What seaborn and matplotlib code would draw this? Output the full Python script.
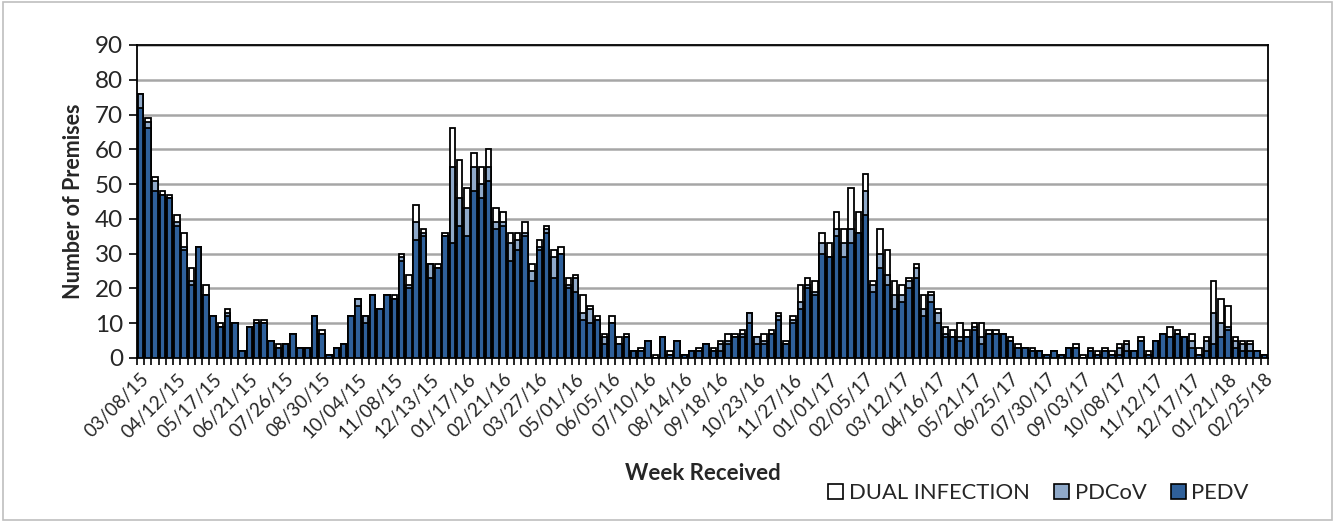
import pandas as pd
import matplotlib.pyplot as plt
from matplotlib.patches import Patch, Rectangle
from matplotlib.ticker import MultipleLocator, FixedLocator
import seaborn as sns

# ---------------------------
# data: weekly premises counts, 03/08/15 .. 02/25/18
# ---------------------------
weeks = pd.date_range("2015-03-08", "2018-02-25", freq="7D")

pedv = [72, 66, 48, 47, 46, 38, 31, 21, 32, 18, 12, 9, 12, 10, 2, 9, 10, 10, 5, 3,
        4, 7, 3, 3, 12, 7, 1, 3, 4, 12, 15, 10, 18, 14, 18, 17, 28, 20, 34, 35,
        23, 26, 35, 33, 38, 35, 48, 46, 51, 37, 38, 28, 31, 35, 22, 31, 36, 23, 30, 20,
        19, 11, 10, 11, 4, 10, 4, 6, 2, 2, 5, 0, 6, 1, 5, 1, 2, 2, 4, 2,
        2, 4, 6, 6, 10, 4, 4, 7, 11, 4, 10, 14, 20, 18, 30, 29, 35, 29, 33, 36,
        41, 19, 26, 21, 14, 16, 20, 23, 12, 16, 10, 6, 6, 5, 6, 8, 4, 7, 7, 7,
        5, 3, 3, 2, 2, 1, 2, 1, 3, 3, 0, 2, 1, 2, 1, 1, 2, 2, 5, 1,
        5, 7, 6, 7, 6, 3, 1, 2, 4, 6, 8, 3, 2, 2, 2, 1]

pdcov = [4, 2, 3, 0, 0, 1, 1, 1, 0, 0, 0, 0, 1, 0, 0, 0, 0, 0, 0, 0,
         0, 0, 0, 0, 0, 0, 0, 0, 0, 0, 2, 2, 0, 0, 0, 0, 1, 1, 5, 1,
         4, 0, 0, 22, 8, 8, 7, 4, 4, 2, 1, 5, 3, 1, 3, 1, 1, 6, 0, 1,
         4, 2, 4, 0, 2, 0, 0, 0, 0, 0, 0, 0, 0, 0, 0, 0, 0, 0, 0, 0,
         2, 1, 0, 1, 3, 2, 1, 0, 1, 0, 1, 2, 1, 1, 3, 0, 2, 4, 4, 0,
         7, 2, 4, 3, 4, 2, 2, 3, 2, 2, 3, 1, 0, 1, 0, 1, 2, 0, 0, 0,
         0, 0, 0, 0, 0, 0, 0, 0, 0, 0, 0, 0, 0, 0, 0, 2, 2, 0, 0, 0,
         0, 0, 0, 0, 0, 2, 0, 3, 9, 4, 1, 2, 2, 2, 0, 0]

dual = [0, 1, 1, 1, 1, 2, 4, 4, 0, 3, 0, 1, 1, 0, 0, 0, 1, 1, 0, 1,
        0, 0, 0, 0, 0, 1, 0, 0, 0, 0, 0, 0, 0, 0, 0, 1, 1, 3, 5, 1,
        0, 1, 1, 11, 11, 6, 4, 5, 5, 4, 3, 3, 2, 3, 2, 2, 1, 2, 2, 2,
        1, 5, 1, 1, 1, 2, 2, 1, 0, 1, 0, 1, 0, 1, 0, 0, 0, 1, 0, 1,
        1, 2, 1, 1, 0, 0, 2, 1, 1, 1, 1, 5, 2, 3, 3, 4, 5, 4, 12, 6,
        5, 1, 7, 7, 4, 3, 1, 1, 4, 1, 1, 2, 2, 4, 2, 1, 4, 1, 1, 0,
        1, 1, 0, 1, 0, 0, 0, 0, 0, 1, 1, 1, 1, 1, 1, 1, 1, 0, 1, 1,
        0, 0, 3, 1, 0, 2, 2, 1, 9, 7, 6, 1, 1, 1, 0, 0]

tick_labels = ["03/08/15", "04/12/15", "05/17/15", "06/21/15", "07/26/15", "08/30/15",
               "10/04/15", "11/08/15", "12/13/15", "01/17/16", "02/21/16", "03/27/16",
               "05/01/16", "06/05/16", "07/10/16", "08/14/16", "09/18/16", "10/23/16",
               "11/27/16", "01/01/17", "02/05/17", "03/12/17", "04/16/17", "05/21/17",
               "06/25/17", "07/30/17", "09/03/17", "10/08/17", "11/12/17", "12/17/17",
               "01/21/18", "02/25/18"]

df = pd.DataFrame({"Week": weeks, "PEDV": pedv, "PDCoV": pdcov, "DUAL": dual})
df["pos"] = range(len(df))
df["lvl_pdcov"] = df["PEDV"] + df["PDCoV"]
df["lvl_total"] = df["lvl_pdcov"] + df["DUAL"]

c_pedv = "#2F609A"
c_pdcov = "#8FA9C9"
c_dual = "#FFFFFF"

sns.set_style("white")
plt.rcParams["font.family"] = ["Lato", "DejaVu Sans"]

fig = plt.figure(figsize=(13.35, 5.22), dpi=100)
ax = fig.add_axes([0.1026, 0.3142, 0.8472, 0.5996])

# stacked bars: draw cumulative levels from tallest to shortest
bar_kw = dict(x="pos", edgecolor="black", linewidth=1.3, width=0.74,
              saturation=1, errorbar=None, ax=ax, zorder=3)
sns.barplot(data=df, y="lvl_total", color=c_dual, **bar_kw)
sns.barplot(data=df, y="lvl_pdcov", color=c_pdcov, **bar_kw)
sns.barplot(data=df, y="PEDV", color=c_pedv, **bar_kw)

# axes
ax.set_ylim(0, 90)
ax.set_xlim(-0.5, len(df) - 0.5)
ax.yaxis.set_major_locator(MultipleLocator(10))
ax.yaxis.grid(True, color="#A6A6A6", linewidth=1.8, zorder=0)
ax.set_axisbelow(True)
ax.tick_params(axis="y", which="major", direction="out", length=6, width=1.2,
               labelsize=17.5, color="black", left=True, pad=4)

ax.xaxis.set_major_locator(FixedLocator(range(0, len(df), 5)))
ax.set_xticklabels(tick_labels, rotation=45, ha="right", rotation_mode="anchor")
ax.xaxis.set_minor_locator(FixedLocator([i - 0.5 for i in range(len(df) + 1)]))
ax.tick_params(axis="x", which="major", length=0, labelsize=13.5, pad=9)
ax.tick_params(axis="x", which="minor", direction="out", length=5, width=1.2,
               color="black", bottom=True)

for s in ax.spines.values():
    s.set_visible(True)
    s.set_color("black")
    s.set_linewidth(1.3)

ax.set_xlabel("Week Received", fontsize=16, fontweight="bold", labelpad=16)
ax.set_ylabel("Number of Premises", fontsize=15.5, fontweight="bold", labelpad=8)

handles = [Patch(facecolor=c_dual, edgecolor="black", linewidth=1.2, label="DUAL INFECTION"),
           Patch(facecolor=c_pdcov, edgecolor="black", linewidth=1.2, label="PDCoV"),
           Patch(facecolor=c_pedv, edgecolor="black", linewidth=1.2, label="PEDV")]
fig.legend(handles=handles, loc="center right", bbox_to_anchor=(0.942, 0.055),
           ncol=3, frameon=False, fontsize=15.8, handlelength=0.7, handleheight=0.7,
           handletextpad=0.25, columnspacing=1.1, borderaxespad=0)

# outer chart border
fig.patches.append(Rectangle((0.002, 0.004), 0.996, 0.992, transform=fig.transFigure,
                             fill=False, edgecolor="#BFBFBF", linewidth=1.2))

fig.savefig("out.png", dpi=100)
